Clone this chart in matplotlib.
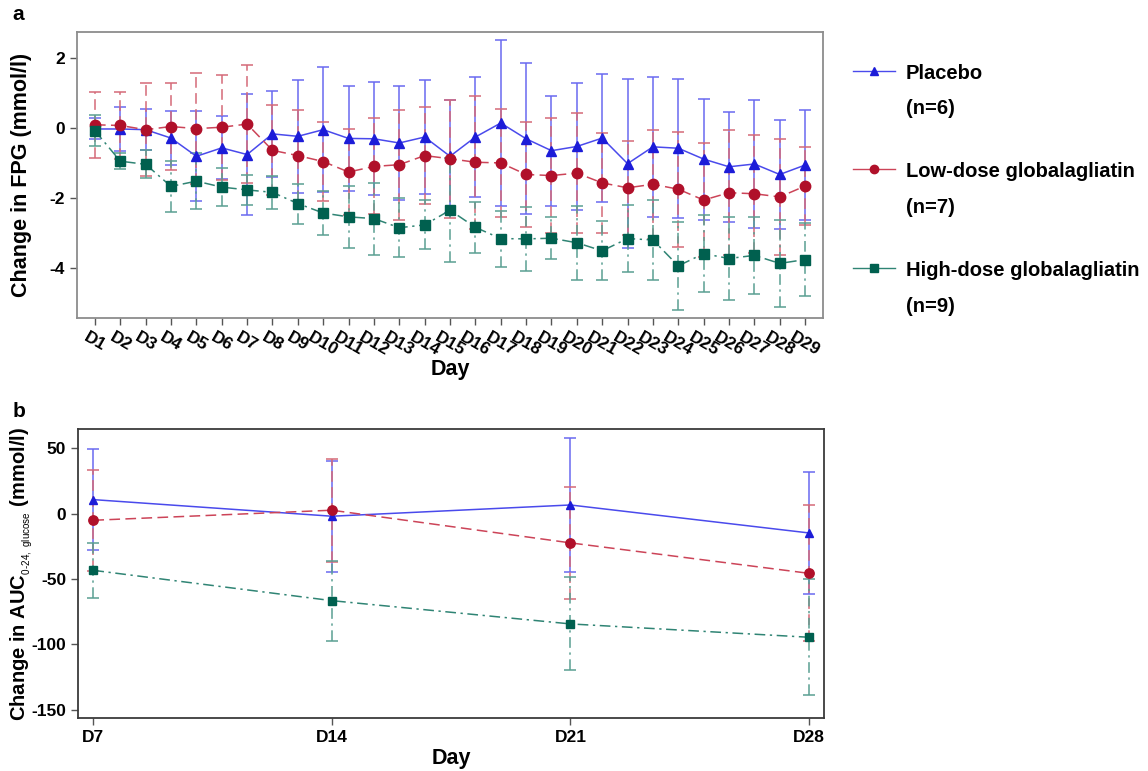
import matplotlib
matplotlib.use("Agg")
import matplotlib.pyplot as plt
import numpy as np
from matplotlib.lines import Line2D

plt.rcParams["font.family"] = ["Liberation Sans", "DejaVu Sans"]
plt.rcParams["axes.unicode_minus"] = False
plt.rcParams["mathtext.fontset"] = "custom"
plt.rcParams["mathtext.rm"] = "Liberation Sans"
plt.rcParams["mathtext.bf"] = "Liberation Sans:bold"

# panel a: change in FPG (mmol/l), mean and SD per day
days_fpg = [f"D{i}" for i in range(1, 30)]
placebo_fpg = [-0.03, -0.03, -0.05, -0.29, -0.81, -0.57, -0.76, -0.17, -0.24, -0.05,
               -0.30, -0.31, -0.43, -0.26, -0.81, -0.26, 0.14, -0.31, -0.65, -0.53,
               -0.29, -1.02, -0.54, -0.58, -0.89, -1.11, -1.03, -1.33, -1.06]
placebo_fpg_sd = [0.30, 0.64, 0.59, 0.76, 1.28, 0.90, 1.74, 1.22, 1.61, 1.78,
                  1.49, 1.61, 1.62, 1.62, 1.62, 1.72, 2.36, 2.16, 1.57, 1.80,
                  1.82, 2.42, 1.99, 1.99, 1.73, 1.57, 1.82, 1.55, 1.56]
lowdose_fpg = [0.09, 0.07, -0.05, 0.04, -0.02, 0.02, 0.11, -0.64, -0.79, -0.96,
               -1.26, -1.10, -1.05, -0.79, -0.88, -0.98, -1.00, -1.33, -1.36, -1.29,
               -1.57, -1.71, -1.61, -1.75, -2.06, -1.85, -1.88, -1.97, -1.66]
lowdose_fpg_sd = [0.95, 0.96, 1.32, 1.23, 1.59, 1.50, 1.69, 1.29, 1.31, 1.12,
                  1.23, 1.37, 1.57, 1.38, 1.68, 1.90, 1.55, 1.51, 1.63, 1.71,
                  1.42, 1.35, 1.56, 1.64, 1.62, 1.78, 1.69, 1.66, 1.12]
highdose_fpg = [-0.08, -0.95, -1.04, -1.67, -1.52, -1.69, -1.77, -1.84, -2.16, -2.43,
                -2.54, -2.59, -2.85, -2.77, -2.35, -2.84, -3.16, -3.17, -3.15, -3.28,
                -3.51, -3.16, -3.20, -3.94, -3.59, -3.73, -3.64, -3.87, -3.76]
highdose_fpg_sd = [0.45, 0.22, 0.40, 0.72, 0.79, 0.55, 0.43, 0.47, 0.57, 0.64,
                   0.89, 1.03, 0.85, 0.70, 1.48, 0.72, 0.80, 0.92, 0.60, 1.05,
                   0.84, 0.96, 1.13, 1.26, 1.11, 1.18, 1.09, 1.25, 1.05]

# panel b: change in AUC 0-24 glucose (mmol/l)
days_auc = ["D7", "D14", "D21", "D28"]
placebo_auc = [10.7, -2.0, 6.6, -14.8]
placebo_auc_sd = [38.5, 42.5, 51.0, 46.5]
lowdose_auc = [-5.1, 2.6, -22.4, -45.7]
lowdose_auc_sd = [38.8, 39.3, 43.0, 52.0]
highdose_auc = [-43.4, -66.6, -84.4, -94.6]
highdose_auc_sd = [21.0, 30.5, 35.6, 44.3]

labels = ["Placebo\n(n=6)", "Low-dose globalagliatin\n(n=7)", "High-dose globalagliatin\n(n=9)"]
styles = [
    dict(marker="^", color="#1c1cd8", lcolor="#4a4aec", ecolor="#6a6af0", ls="-", ms=7),
    dict(marker="o", color="#b0102a", lcolor="#cc4458", ecolor="#d46a78", ls=(0, (7, 3.5)), ms=7.5),
    dict(marker="s", color="#00604f", lcolor="#2f8474", ecolor="#5a9f92", ls=(0, (7, 3, 1.5, 3)), ms=6.5),
]


def draw_series(ax, x, means, sds, st, ms_scale=1.0):
    line, caps, bars = ax.errorbar(
        x, means, yerr=sds, color=st["lcolor"], ecolor=st["ecolor"], ls=st["ls"], lw=1.1,
        marker=st["marker"], ms=st["ms"] * ms_scale, mfc=st["color"], mec=st["color"],
        elinewidth=1.1, capsize=4, capthick=1.1,
    )
    bars[0].set_linestyle(st["ls"])
    return line


def style_axes(ax, edge):
    for sp in ax.spines.values():
        sp.set_color(edge)
        sp.set_linewidth(1.3)
    ax.tick_params(direction="out", length=5, width=1, color="#555555", labelsize=12.5)
    for lab in ax.get_xticklabels() + ax.get_yticklabels():
        lab.set_fontweight("bold")


fig = plt.figure(figsize=(11.48, 7.71), dpi=100)

# panel a
ax_a = fig.add_axes([0.067, 0.5875, 0.650, 0.371])
xa = np.arange(len(days_fpg))
fpg = [(placebo_fpg, placebo_fpg_sd), (lowdose_fpg, lowdose_fpg_sd), (highdose_fpg, highdose_fpg_sd)]
for (m, s), st in zip(fpg, styles):
    draw_series(ax_a, xa, m, s, st)
ax_a.set_xlim(-0.71, len(days_fpg) - 0.29)
ax_a.set_ylim(-5.43, 2.74)
ax_a.set_yticks([2, 0, -2, -4])
ax_a.set_xticks(xa)
ax_a.set_xticklabels(days_fpg, rotation=-30, ha="center")
style_axes(ax_a, "#8c8c8c")
ax_a.set_xlabel("Day", fontsize=15.5, fontweight="bold", labelpad=0)
ax_a.set_ylabel("Change in FPG (mmol/l)", fontsize=15.5, fontweight="bold")
ax_a.yaxis.set_label_coords(-0.060, 0.5)

# panel b
ax_b = fig.add_axes([0.068, 0.0687, 0.650, 0.375])
xb = np.arange(len(days_auc))
auc = [(placebo_auc, placebo_auc_sd), (lowdose_auc, lowdose_auc_sd), (highdose_auc, highdose_auc_sd)]
for (m, s), st in zip(auc, styles):
    draw_series(ax_b, xb, m, s, st, ms_scale=0.9)
ax_b.set_xlim(-0.064, 3.064)
ax_b.set_ylim(-156.4, 64.8)
ax_b.set_yticks([50, 0, -50, -100, -150])
ax_b.set_xticks(xb)
ax_b.set_xticklabels(days_auc)
style_axes(ax_b, "#3a3a3a")
ax_b.set_xlabel("Day", fontsize=15.5, fontweight="bold", labelpad=2)
ax_b.set_ylabel(r"Change in AUC$_{_{\mathrm{0\text{-}24,\ glucose}}}$ (mmol/l)",
                fontsize=14.5, fontweight="bold")
ax_b.yaxis.set_label_coords(-0.058, 0.5)

fig.text(0.011, 0.994, "a", fontsize=15, fontweight="bold", va="top")
fig.text(0.011, 0.478, "b", fontsize=15, fontweight="bold", va="top")

# legend
handles = [Line2D([], [], color=st["lcolor"], ls="-", lw=1, marker=st["marker"],
                  ms=st["ms"] * 0.8, mfc=st["color"], mec=st["color"]) for st in styles]
leg = fig.legend(handles, labels, loc="upper left", bbox_to_anchor=(0.727, 0.941),
                 frameon=False, prop=dict(size=14.5, weight="bold"), handlelength=2.1,
                 handletextpad=0.55, labelspacing=2.2)
for t in leg.get_texts():
    t.set_linespacing(2.1)
# put each handle next to the first line of its label
for col in leg._legend_handle_box.get_children():
    for row in col.get_children():
        row.align = "top"

fig.savefig("out.png", dpi=100)
